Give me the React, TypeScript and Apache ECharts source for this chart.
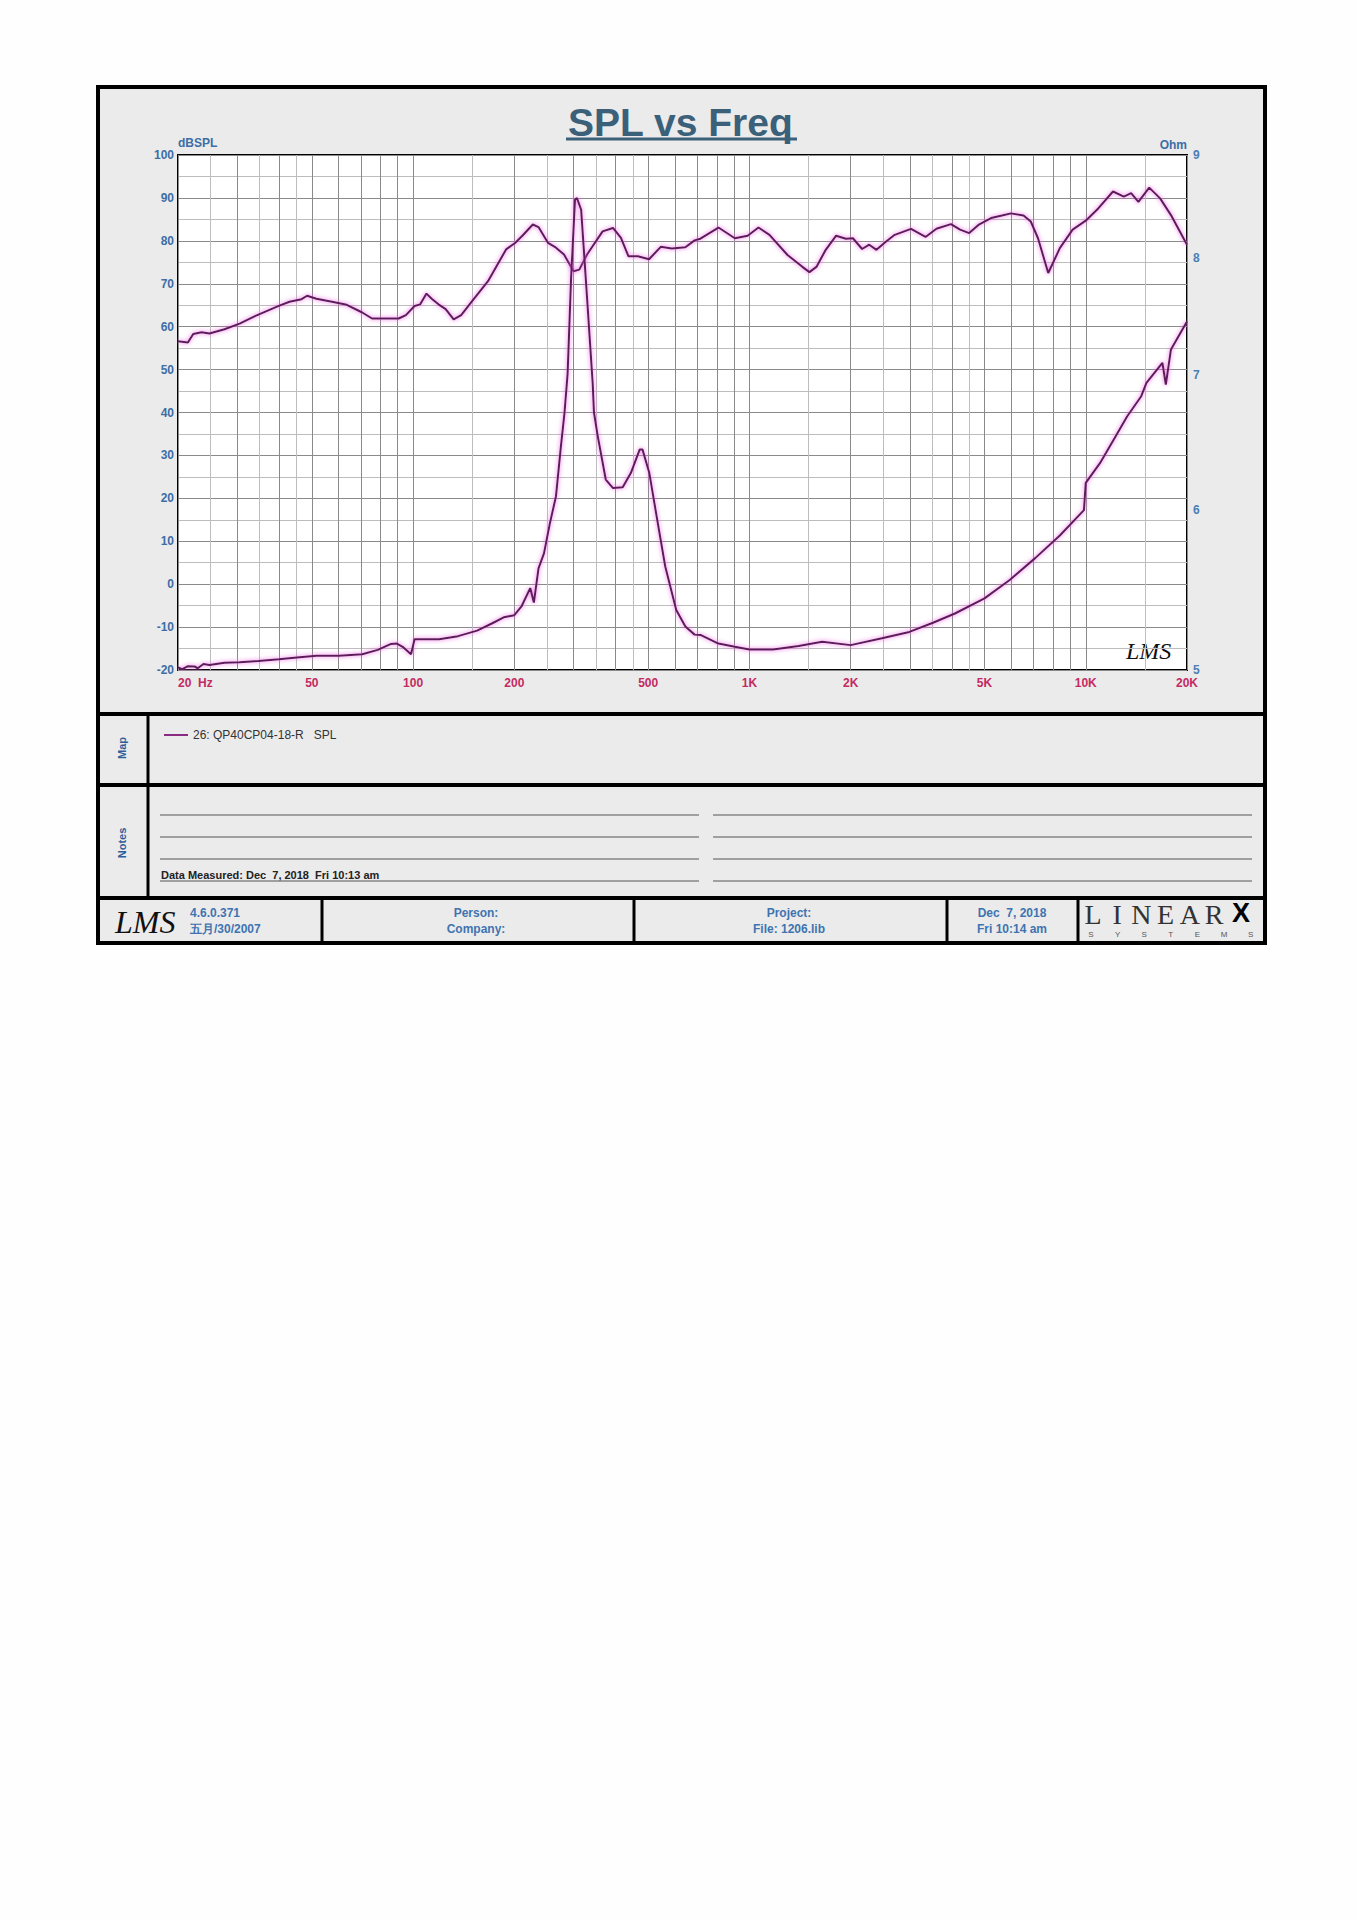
import React, { useEffect, useRef } from "react";
import * as echarts from "echarts";

// ---------- data ----------
const splFreqHz = [
  20, 21.4, 22.2, 23.5, 24.8, 27.5, 30.5, 34, 39.7, 42.9, 46.6, 48.4, 51.6, 57.4, 63.5, 70.6, 75.5, 84.7,
  90.6, 95.2, 101, 105, 109.6, 113.6, 119, 125, 132, 139, 150, 167, 189, 201, 212, 227, 236, 252, 266, 281,
  300, 312, 329, 366, 393, 415, 437, 466, 503, 545, 588, 645, 687, 715, 809, 905, 988, 1064, 1147, 1298,
  1434, 1508, 1585, 1686, 1811, 1935, 2031, 2163, 2271, 2386, 2544, 2704, 3024, 3339, 3597, 3973, 4230,
  4502, 4795, 5230, 5636, 5991, 6532, 6863, 7212, 7735, 8374, 9141, 10000, 10910, 12050, 12980, 13640,
  14340, 15440, 16640, 17920, 20000,
];
const splDb = [
  56.6, 56.3, 58.3, 58.7, 58.4, 59.4, 60.7, 62.5, 64.8, 65.8, 66.4, 67.2, 66.5, 65.8, 65.1, 63.3, 61.9, 61.9,
  61.9, 62.7, 64.8, 65.2, 67.7, 66.5, 65.2, 64.1, 61.7, 62.7, 66.0, 70.6, 78.0, 79.5, 81.3, 83.8, 83.2, 79.5,
  78.4, 76.8, 72.9, 73.3, 76.8, 82.2, 83.0, 80.7, 76.4, 76.4, 75.7, 78.6, 78.2, 78.5, 80.1, 80.5, 83.1, 80.6,
  81.2, 83.1, 81.4, 76.7, 74.0, 72.7, 74.0, 77.9, 81.2, 80.5, 80.6, 78.1, 79.1, 77.9, 79.8, 81.4, 82.8, 80.9,
  82.8, 83.9, 82.6, 81.8, 83.7, 85.3, 85.9, 86.4, 85.9, 84.5, 80.6, 72.5, 78.3, 82.6, 84.7, 87.6, 91.5, 90.3,
  91.1, 89.1, 92.4, 89.9, 86.0, 79.1,
];

const impFreqHz = [
  20, 20.6, 21.4, 22.4, 22.9, 23.8, 24.8, 27.5, 30.5, 34.7, 39.9, 45.1, 51.6, 60.2, 70.6, 78.5, 86, 89.5,
  93.1, 98.6, 101, 105, 119.5, 136, 155, 172, 186, 200, 210, 223, 228.6, 236, 245, 255, 266, 275, 282, 288,
  295, 303, 307, 316, 329, 342, 345, 354, 374, 393, 420, 444, 472, 481, 504, 532, 562, 606, 645, 687, 715,
  809, 905, 1000, 1176, 1400, 1645, 2000, 2478, 2988, 3514, 4083, 5000, 5940, 7073, 8374, 9877, 10000,
  11020, 12200, 13270, 14620, 15150, 16900, 17300, 17920, 20000,
];
const impOhm = [
  5.015, 5.005, 5.022, 5.02, 5.01, 5.034, 5.029, 5.042, 5.044, 5.052, 5.062, 5.072, 5.082, 5.082, 5.091,
  5.116, 5.151, 5.153, 5.134, 5.091, 5.179, 5.179, 5.179, 5.197, 5.23, 5.274, 5.31, 5.323, 5.376, 5.49,
  5.4, 5.615, 5.712, 5.909, 6.097, 6.45, 6.708, 7.01, 7.823, 8.555, 8.569, 8.455, 7.649, 6.934, 6.708,
  6.53, 6.214, 6.154, 6.159, 6.26, 6.431, 6.43, 6.26, 5.934, 5.627, 5.355, 5.254, 5.206, 5.204, 5.153,
  5.134, 5.119, 5.119, 5.139, 5.164, 5.144, 5.184, 5.222, 5.277, 5.333, 5.426, 5.541, 5.681, 5.83, 6.001,
  6.19, 6.331, 6.517, 6.678, 6.834, 6.939, 7.1, 6.925, 7.209, 7.443,
];

const xLabelValues = [20, 50, 100, 200, 500, 1000, 2000, 5000, 10000, 20000];
const xLabelTexts = ["20  Hz", "50", "100", "200", "500", "1K", "2K", "5K", "10K", "20K"];
const xMajorGrid = [
  20, 30, 40, 50, 60, 70, 80, 90, 100, 200, 300, 400, 500, 600, 700, 800, 900, 1000, 2000, 3000, 4000, 5000,
  6000, 7000, 8000, 9000, 10000, 20000,
];
const xMinorGrid = [25, 35, 45, 150, 250, 350, 450, 1500, 2500, 3500, 4500, 15000];
const ohmTicks = [5, 6, 7, 8, 9];

const legendName = "26: QP40CP04-18-R   SPL";
const impName = "26: QP40CP04-18-R   Impedance";
const chartTitle = "SPL vs Freq";
const noteText = "Data Measured: Dec  7, 2018  Fri 10:13 am";
const footerVersion = ["4.6.0.371", "五月/30/2007"];
const footerPerson = ["Person:", "Company:"];
const footerProject = ["Project:", "File: 1206.lib"];
const footerDate = ["Dec  7, 2018", "Fri 10:14 am"];
const brandLetters = ["L", "I", "N", "E", "A", "R"];
const brandSub = ["S", "Y", "S", "T", "E", "M", "S"];

const SANS = "'Liberation Sans', Arial, Helvetica, sans-serif";
const SERIF = "'Liberation Serif', 'DejaVu Serif', serif";
const BLUE = "#3d6ea6";
const RED = "#c42a62";
const LINE = "#5c1d5a";

export default function App() {
  const ref = useRef<HTMLDivElement>(null);

  useEffect(() => {
    if (!ref.current) return;
    const chart = echarts.init(ref.current, undefined, { renderer: "svg" });

    const splData = splFreqHz.map((f, i) => [f, splDb[i]]);
    const impData = impFreqHz.map((f, i) => [f, impOhm[i]]);

    const fmtX = (v: number) => {
      const i = xLabelValues.findIndex((t) => Math.abs(t - v) < t * 1e-3);
      return i >= 0 ? xLabelTexts[i] : "";
    };

    const frameL = 98, frameR = 1265, frameT = 87, frameB = 943;
    const graphic: any[] = [];
    // page frame
    graphic.push({
      type: "rect", z: -10, silent: true,
      shape: { x: frameL, y: frameT, width: frameR - frameL, height: frameB - frameT },
      style: { fill: "#ebebeb", stroke: "#000", lineWidth: 4 },
    });
    // title underline
    graphic.push({ type: "line", shape: { x1: 566, y1: 139, x2: 797, y2: 139 }, style: { stroke: "#3b6079", lineWidth: 3 } });
    // section separators
    [714, 785, 898].forEach((y) =>
      graphic.push({ type: "line", shape: { x1: frameL, y1: y, x2: frameR, y2: y }, style: { stroke: "#000", lineWidth: 4 } })
    );
    graphic.push({ type: "line", shape: { x1: 148, y1: 714, x2: 148, y2: 898 }, style: { stroke: "#000", lineWidth: 3 } });
    [322, 634, 947, 1078].forEach((x) =>
      graphic.push({ type: "line", shape: { x1: x, y1: 898, x2: x, y2: frameB }, style: { stroke: "#000", lineWidth: 3 } })
    );
    // side labels
    [["Map", 748], ["Notes", 843]].forEach(([t, y]) =>
      graphic.push({
        type: "text", x: 122, y: y as number, rotation: Math.PI / 2,
        style: { text: t as string, fill: "#2f5f9a", font: `bold 11px ${SANS}`, align: "center", verticalAlign: "middle" },
      })
    );
    // notes lines
    [815, 837, 859, 881].forEach((y) => {
      graphic.push({ type: "line", shape: { x1: 160, y1: y, x2: 699, y2: y }, style: { stroke: "#555", lineWidth: 1 } });
      graphic.push({ type: "line", shape: { x1: 713, y1: y, x2: 1252, y2: y }, style: { stroke: "#555", lineWidth: 1 } });
    });
    graphic.push({
      type: "text", x: 161, y: 880,
      style: { text: noteText, fill: "#222", font: `bold 11px ${SANS}`, align: "left", verticalAlign: "bottom" },
    });
    // footer texts
    const footerCells: [string[], number, string][] = [
      [footerVersion, 190, "left"],
      [footerPerson, 476, "center"],
      [footerProject, 789, "center"],
      [footerDate, 1012, "center"],
    ];
    footerCells.forEach(([lines, x, align]) => {
      lines.forEach((t, k) =>
        graphic.push({
          type: "text", x, y: 913 + k * 16,
          style: { text: t, fill: "#3f74b0", font: `bold 12px ${SANS}`, align, verticalAlign: "middle" },
        })
      );
    });
    // LMS script logos
    graphic.push({
      type: "text", x: 115, y: 922,
      style: { text: "LMS", fill: "#111", font: `italic 32px ${SERIF}`, align: "left", verticalAlign: "middle" },
    });
    graphic.push({
      type: "text", x: 1126, y: 651,
      style: { text: "LMS", fill: "#111", font: `italic 24px ${SERIF}`, align: "left", verticalAlign: "middle" },
    });
    // LINEARX brand
    brandLetters.forEach((ch, i) =>
      graphic.push({
        type: "text", x: 1093 + i * 24.2, y: 914,
        style: { text: ch, fill: "#333", font: `28px ${SERIF}`, align: "center", verticalAlign: "middle" },
      })
    );
    graphic.push({
      type: "text", x: 1241, y: 913,
      style: { text: "X", fill: "#000", font: `900 27px ${SANS}`, align: "center", verticalAlign: "middle" },
    });
    brandSub.forEach((ch, i) =>
      graphic.push({
        type: "text", x: 1091 + i * 26.6, y: 934,
        style: { text: ch, fill: "#555", font: `8px ${SANS}`, align: "center", verticalAlign: "middle" },
      })
    );

    const lineStyle = {
      color: LINE, width: 2, shadowColor: "rgba(235,100,225,1)", shadowBlur: 4,
    };

    chart.setOption({
      animation: false,
      backgroundColor: "#fefefe",
      title: {
        text: chartTitle, left: 563, top: 98,
        textStyle: { fontFamily: SANS, fontSize: 39, fontWeight: "bold", color: "#3b6079" },
      },
      legend: {
        left: 159, top: 724, icon: "rect", itemWidth: 24, itemHeight: 2, itemGap: 20,
        data: [legendName],
        textStyle: { fontFamily: SANS, fontSize: 12, color: "#333" },
      },
      grid: {
        left: 178, top: 155, width: 1009, height: 515, show: true,
        backgroundColor: "#ffffff", borderColor: "#000", borderWidth: 2,
      },
      xAxis: [
        {
          type: "log", logBase: 10, min: 20, max: 20000,
          axisLine: { show: false },
          axisTick: { show: false, customValues: xMajorGrid },
          axisLabel: {
            customValues: xLabelValues, formatter: fmtX, margin: 7, alignMinLabel: "left",
            color: RED, fontFamily: SANS, fontSize: 12, fontWeight: "bold",
          },
          splitLine: { show: true, lineStyle: { color: "#8a8a8a", width: 1 } },
        },
        {
          type: "log", logBase: 10, min: 20, max: 20000,
          axisLine: { show: false },
          axisTick: { show: false, customValues: xMinorGrid },
          axisLabel: { show: false },
          splitLine: { show: true, lineStyle: { color: "#bdbdbd", width: 1 } },
        },
      ],
      yAxis: [
        {
          type: "value", min: -20, max: 100, interval: 10,
          name: "dBSPL", nameLocation: "end", nameGap: 4,
          nameTextStyle: { align: "left", color: BLUE, fontFamily: SANS, fontSize: 12, fontWeight: "bold" },
          axisLine: { show: false }, axisTick: { show: false },
          axisLabel: { color: BLUE, fontFamily: SANS, fontSize: 12, fontWeight: "bold", margin: 4 },
          splitLine: { show: true, lineStyle: { color: "#8a8a8a", width: 1 } },
          minorTick: { show: false, splitNumber: 2 },
          minorSplitLine: { show: true, lineStyle: { color: "#bdbdbd", width: 1 } },
        },
        {
          type: "log", logBase: 10, min: 5, max: 9, position: "right",
          name: "Ohm", nameLocation: "end", nameGap: 4,
          nameTextStyle: { align: "right", color: BLUE, fontFamily: SANS, fontSize: 12, fontWeight: "bold" },
          axisLine: { show: false }, axisTick: { show: false },
          axisLabel: {
            customValues: ohmTicks, formatter: (v: number) => String(Math.round(v)), margin: 6,
            color: "#4a7fb5", fontFamily: SANS, fontSize: 12, fontWeight: "bold",
          },
          splitLine: { show: false },
        },
      ],
      series: [
        {
          name: legendName, type: "line", xAxisIndex: 0, yAxisIndex: 0, data: splData,
          showSymbol: false, symbol: "none", lineStyle, itemStyle: { color: "#8a2a84" }, z: 5,
        },
        {
          name: impName, type: "line", xAxisIndex: 0, yAxisIndex: 1, data: impData,
          showSymbol: false, symbol: "none", lineStyle, itemStyle: { color: "#8a2a84" }, z: 5,
        },
      ],
      graphic,
    });

    return () => chart.dispose();
  }, []);

  return (
    <div
      ref={ref}
      style={{ position: "absolute", left: 0, top: 0, width: 1357, height: 1920 }}
    />
  );
}
